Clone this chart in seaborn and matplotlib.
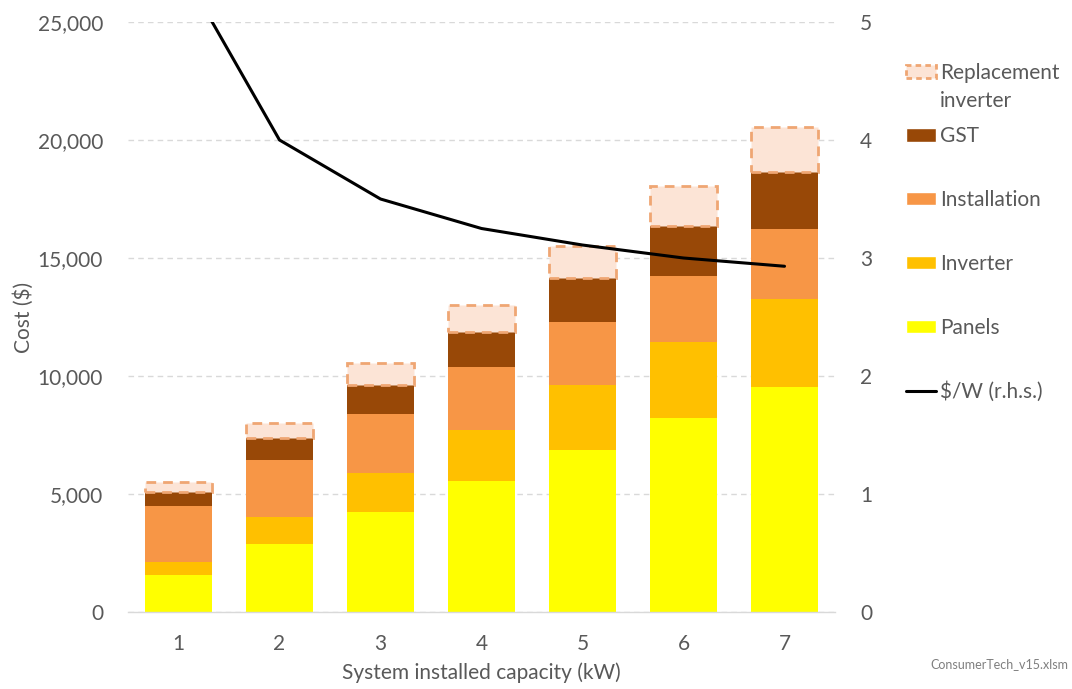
import numpy as np
import pandas as pd
import matplotlib
matplotlib.use("Agg")
import matplotlib.pyplot as plt
from matplotlib.patches import Patch
from matplotlib.lines import Line2D
import seaborn as sns

# ---- data ----
capacity = ["1", "2", "3", "4", "5", "6", "7"]
panels = [1550, 2880, 4250, 5560, 6860, 8220, 9530]
inverter = [570, 1150, 1630, 2150, 2760, 3220, 3730]
installation = [2370, 2410, 2510, 2690, 2680, 2800, 2970]
gst = [590, 930, 1230, 1480, 1840, 2120, 2410]
replacement = [420, 630, 940, 1120, 1380, 1690, 1910]
dollars_per_watt = [5.5, 4.0, 3.5, 3.25, 3.11, 3.0, 2.93]

cost_ticks = [0, 5000, 10000, 15000, 20000, 25000]
rhs_ticks = [0, 1, 2, 3, 4, 5]

series_names = ["Panels", "Inverter", "Installation", "GST", "Replacement inverter"]
series_values = [panels, inverter, installation, gst, replacement]
colors = {"Panels": "#FFFF00", "Inverter": "#FFC000", "Installation": "#F79646",
          "GST": "#984807", "Replacement inverter": "#FCE4D6"}
repl_edge = "#EFA673"
text_col = "#595959"
grid_col = "#D9D9D9"
FS = 15

sns.set_style("white")
plt.rcParams["font.family"] = ["Lato", "DejaVu Sans"]

fig = plt.figure(figsize=(10.72, 6.89), dpi=100)
ax = fig.add_axes([128 / 1072, 1 - 612 / 689, (835 - 128) / 1072, (612 - 22) / 689])

df = pd.DataFrame({"capacity": capacity})
bottom = np.zeros(len(capacity))
for name, vals in zip(series_names, series_values):
    df["value"] = vals
    kw = dict(linewidth=0)
    if name.startswith("Replacement"):
        kw = dict(linewidth=2.0, edgecolor=repl_edge, linestyle=(0, (3.5, 2.5)))
    sns.barplot(data=df, x="capacity", y="value", bottom=bottom, color=colors[name],
                saturation=1, width=0.66, errorbar=None, ax=ax, zorder=2, **kw)
    bottom = bottom + np.array(vals)

ax.set_xlim(-0.5, 6.5)
ax.set_ylim(0, 25000)
ax.set_yticks(cost_ticks)
ax.set_yticklabels([f"{t:,}" for t in cost_ticks])
ax.yaxis.grid(True, color=grid_col, linestyle=(0, (4, 3)), linewidth=1.0, zorder=0)
ax.set_axisbelow(True)
for s in ["top", "right", "left"]:
    ax.spines[s].set_visible(False)
ax.spines["bottom"].set_color(grid_col)
ax.spines["bottom"].set_linewidth(1.0)
ax.tick_params(axis="both", length=0, labelsize=FS, labelcolor=text_col)
ax.tick_params(axis="y", pad=18)
ax.tick_params(axis="x", pad=16)
ax.set_xlabel("System installed capacity (kW)", fontsize=FS, color=text_col, labelpad=6)
ax.set_ylabel("Cost ($)", fontsize=FS, color=text_col)
ax.yaxis.set_label_coords(-(128 - 34) / 707, 0.5)

ax2 = ax.twinx()
sns.lineplot(x=capacity, y=dollars_per_watt, ax=ax2, color="black", linewidth=2.2,
             sort=False, zorder=5)
ax2.set_ylim(0, 5)
ax2.set_xlim(-0.5, 6.5)
ax2.set_yticks(rhs_ticks)
ax2.set_yticklabels([str(t) for t in rhs_ticks])
for s in ["top", "right", "left", "bottom"]:
    ax2.spines[s].set_visible(False)
ax2.tick_params(axis="y", length=0, labelsize=FS, labelcolor=text_col, pad=18)
ax2.grid(False)

handles = [
    Patch(facecolor=colors["Replacement inverter"], edgecolor=repl_edge, linewidth=2.0,
          linestyle=(0, (2, 1.5)), label="Replacement"),
    Patch(facecolor=colors["GST"], label="GST"),
    Patch(facecolor=colors["Installation"], label="Installation"),
    Patch(facecolor=colors["Inverter"], label="Inverter"),
    Patch(facecolor=colors["Panels"], label="Panels"),
    Line2D([0], [0], color="black", linewidth=2.2, label="$/W (r.h.s.)"),
]
leg = fig.legend(handles=handles, loc="upper left", bbox_to_anchor=(0.845, 0.909),
                 frameon=False, fontsize=FS, labelcolor=text_col, handlelength=1.45,
                 handleheight=0.6, handletextpad=0.2, labelspacing=2.1, borderaxespad=0,
                 borderpad=0)

# second line of the first legend label, aligned under "Replacement"
fig.canvas.draw()
r = fig.canvas.get_renderer()
bb = leg.get_texts()[0].get_window_extent(r)
fig.text(bb.x0 / fig.bbox.width, (bb.y0 - 28 + bb.height / 2) / fig.bbox.height,
         "inverter", fontsize=FS, color=text_col, ha="left", va="center")

fig.text(0.997, 0.036, "ConsumerTech_v15.xlsm", fontsize=9, color="#7F7F7F",
         ha="right", va="center")

fig.savefig("out.png", dpi=100)
